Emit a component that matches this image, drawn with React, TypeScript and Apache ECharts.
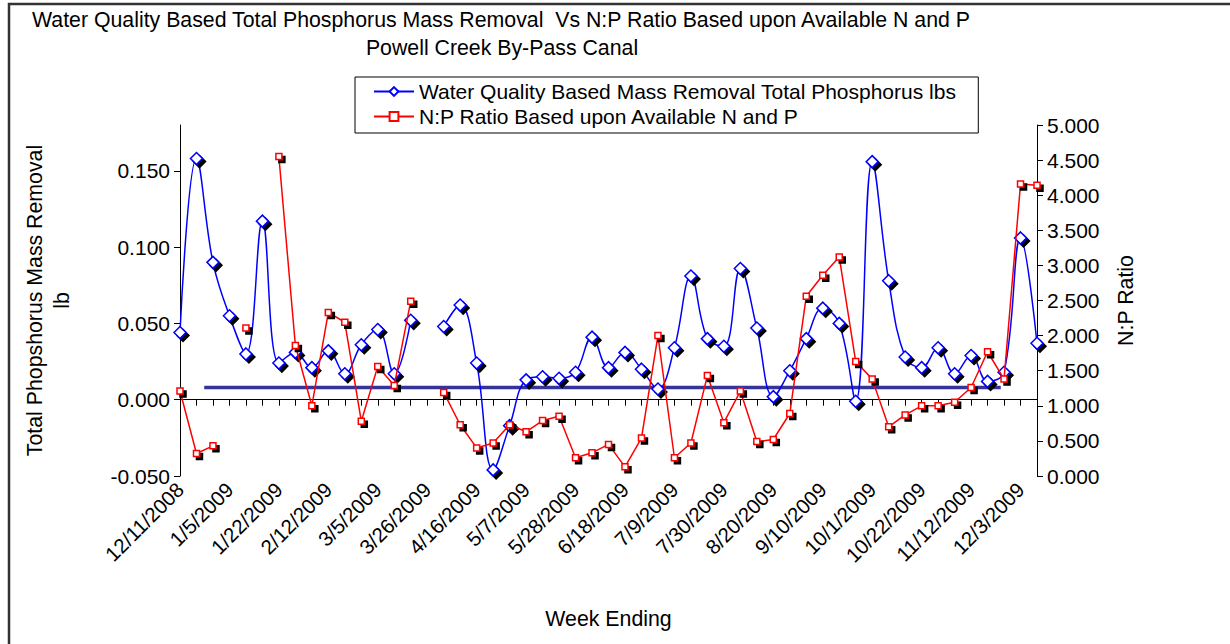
import React, { useEffect, useRef } from "react";
import * as echarts from "echarts";

const categories = [
  "12/11/2008", "12/18/2008", "12/29/2008", "1/5/2009", "1/8/2009", "1/15/2009", "1/22/2009",
  "1/29/2009", "2/5/2009", "2/12/2009", "2/19/2009", "2/26/2009", "3/5/2009", "3/12/2009",
  "3/19/2009", "3/26/2009", "4/2/2009", "4/9/2009", "4/16/2009", "4/23/2009", "4/30/2009",
  "5/7/2009", "5/14/2009", "5/21/2009", "5/28/2009", "6/4/2009", "6/11/2009", "6/18/2009",
  "6/25/2009", "7/2/2009", "7/9/2009", "7/16/2009", "7/23/2009", "7/30/2009", "8/6/2009",
  "8/13/2009", "8/20/2009", "8/27/2009", "9/3/2009", "9/10/2009", "9/17/2009", "9/24/2009",
  "10/1/2009", "10/8/2009", "10/15/2009", "10/22/2009", "10/29/2009", "11/5/2009", "11/12/2009",
  "11/19/2009", "11/26/2009", "12/3/2009", "12/10/2009",
];

const massRemoval = [
  0.044, 0.158, 0.09, 0.055, 0.03, 0.117, 0.024, 0.031, 0.021, 0.032, 0.017, 0.036, 0.046, 0.017,
  0.052, null, 0.048, 0.062, 0.024, -0.046, -0.017, 0.013, 0.015, 0.014, 0.018, 0.041, 0.021, 0.031,
  0.02, 0.007, 0.034, 0.081, 0.04, 0.035, 0.086, 0.047, 0.002, 0.019, 0.04, 0.06, 0.05, -0.001,
  0.156, 0.078, 0.028, 0.021, 0.034, 0.017, 0.029, 0.012, 0.018, 0.106, 0.037,
];

const npRatio = [
  1.21, 0.32, 0.43, null, 2.11, null, 4.55, 1.86, 1.0, 2.33, 2.19, 0.78, 1.56, 1.29, 2.49, null,
  1.19, 0.73, 0.4, 0.47, 0.73, 0.63, 0.79, 0.85, 0.26, 0.33, 0.45, 0.13, 0.54, 2.0, 0.26, 0.47,
  1.43, 0.76, 1.21, 0.49, 0.52, 0.89, 2.56, 2.86, 3.12, 1.63, 1.38, 0.7, 0.87, 1.0, 1.0, 1.05,
  1.26, 1.77, 1.38, 4.16, 4.14,
];

const leftTickValues = [-0.05, 0, 0.05, 0.1, 0.15];
const refLineValue = 0.008;
const refLineFrom = 1.47;
const refLineTo = 49.8;

const blueName = "Water Quality Based Mass Removal Total Phosphorus lbs";
const redName = "N:P Ratio Based upon Available N and P";
const titleLine1 = "Water Quality Based Total Phosphorus Mass Removal  Vs N:P Ratio Based upon Available N and P";
const titleLine2 = "Powell Creek By-Pass Canal";

export default function App() {
  const ref = useRef<HTMLDivElement>(null);
  useEffect(() => {
    const chart = echarts.init(ref.current!, null, { renderer: "svg" });
    const font = "'Liberation Sans', Arial, sans-serif";
    const shadow = { shadowColor: "#000", shadowOffsetX: 3, shadowOffsetY: 3, shadowBlur: 0 };
    chart.setOption({
      animation: false,
      backgroundColor: "#fff",
      textStyle: { fontFamily: font, color: "#000" },
      graphic: [
        {
          type: "rect",
          shape: { x: 9, y: 4, width: 1240, height: 660 },
          style: { fill: "none", stroke: "#333", lineWidth: 2.5 },
          silent: true,
        },
        {
          type: "text",
          x: 501,
          y: 20,
          style: { text: titleLine1, font: `21.3px ${font}`, fill: "#000", align: "center", verticalAlign: "middle", textAlign: "center", textVerticalAlign: "middle" },
        },
        {
          type: "text",
          x: 502,
          y: 48,
          style: { text: titleLine2, font: `21.3px ${font}`, fill: "#000", align: "center", verticalAlign: "middle", textAlign: "center", textVerticalAlign: "middle" },
        },
      ],
      legend: {
        data: [blueName, redName],
        orient: "vertical",
        left: 355,
        top: 77,
        borderColor: "#000",
        borderWidth: 1,
        backgroundColor: "#fff",
        padding: [4, 22, 6, 18],
        itemWidth: 40,
        itemHeight: 11,
        itemGap: 4,
        textStyle: { fontSize: 21, color: "#000", fontFamily: font },
        itemStyle: { shadowColor: "rgba(0,0,0,0)", shadowOffsetX: 0, shadowOffsetY: 0 },
      },
      grid: { left: 180, right: 193, top: 125, bottom: 168, containLabel: false },
      xAxis: [
        {
          type: "category",
          data: categories,
          boundaryGap: false,
          axisLine: { lineStyle: { color: "#000", width: 1 } },
          axisTick: { interval: 0, length: 6, lineStyle: { color: "#000" } },
          axisLabel: { interval: 2, rotate: 45, fontSize: 20.5, color: "#000", margin: 10 },
          splitLine: { show: false },
          name: "Week Ending",
          nameLocation: "middle",
          nameGap: 132,
          nameTextStyle: { fontSize: 21.3, color: "#000" },
        },
        { type: "value", min: 0, max: 52, interval: 4, show: false },
      ],
      yAxis: [
        {
          type: "value",
          min: -0.05,
          max: 0.18,
          interval: 0.05,
          position: "left",
          axisLine: { show: true, lineStyle: { color: "#000" } },
          axisTick: { show: true, length: 6, customValues: leftTickValues, lineStyle: { color: "#000" } },
          axisLabel: {
            customValues: leftTickValues,
            formatter: (v: number) => v.toFixed(3),
            fontSize: 21,
            color: "#000",
            margin: 10,
          },
          splitLine: { show: false },
          name: "Total Phopshorus Mass Removal\nlb",
          nameLocation: "middle",
          nameRotate: 90,
          nameGap: 105,
          nameTextStyle: { fontSize: 21.3, lineHeight: 27, color: "#000", align: "center" },
        },
        {
          type: "value",
          min: 0,
          max: 5,
          interval: 0.5,
          position: "right",
          axisLine: { show: true, lineStyle: { color: "#000" } },
          axisTick: { show: true, length: 6, lineStyle: { color: "#000" } },
          axisLabel: { formatter: (v: number) => v.toFixed(3), fontSize: 21, color: "#000", margin: 10 },
          splitLine: { show: false },
          name: "N:P Ratio",
          nameLocation: "middle",
          nameRotate: 90,
          nameGap: 78,
          nameTextStyle: { fontSize: 21.3, color: "#000" },
        },
      ],
      series: [
        {
          type: "line",
          xAxisIndex: 1,
          yAxisIndex: 0,
          data: [
            [refLineFrom, refLineValue],
            [refLineTo, refLineValue],
          ],
          symbol: "none",
          lineStyle: { color: "#333399", width: 3.5 },
          silent: true,
          z: 1,
        },
        {
          name: blueName,
          type: "line",
          data: massRemoval,
          yAxisIndex: 0,
          smooth: 0.4,
          symbol: "diamond",
          symbolSize: 12,
          showAllSymbol: true,
          connectNulls: false,
          lineStyle: { color: "#0000ff", width: 1.5 },
          itemStyle: { color: "#fff", borderColor: "#0000ff", borderWidth: 1.5, ...shadow },
          emphasis: { disabled: true },
          z: 3,
        },
        {
          name: redName,
          type: "line",
          data: npRatio,
          yAxisIndex: 1,
          symbol: "rect",
          symbolSize: 6,
          showAllSymbol: true,
          connectNulls: false,
          lineStyle: { color: "#ff0000", width: 1.5 },
          itemStyle: { color: "#fff", borderColor: "#ff0000", borderWidth: 1.5, ...shadow },
          emphasis: { disabled: true },
          z: 4,
        },
      ],
    });
    return () => chart.dispose();
  }, []);
  return (
    <div
      ref={ref}
      style={{ position: "absolute", left: 0, top: 0, width: 1230, height: 644, background: "#fff" }}
    />
  );
}
